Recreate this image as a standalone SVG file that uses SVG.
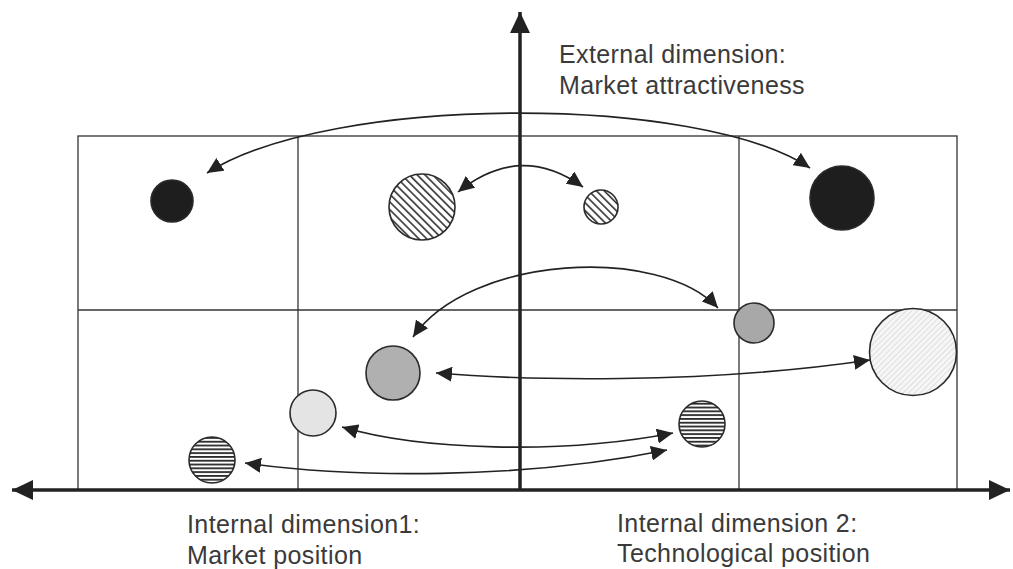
<svg xmlns="http://www.w3.org/2000/svg" width="1013" height="569" viewBox="0 0 1013 569">
  <style>
    .grid { fill: none; stroke: #333; stroke-width: 1.3; }
    .axis { fill: none; stroke: #222; stroke-width: 3.5; }
    .conn { fill: none; stroke: #222; stroke-width: 1.6; marker-start: url(#arr); marker-end: url(#arr); }
    .node { stroke: #2a2a2a; stroke-width: 1.6; }
    .lbl { font-family: "Liberation Sans", Arial, sans-serif; font-size: 25px; fill: #3a3a3a; letter-spacing: 0.4px; }
  </style>
  <defs>
    <marker id="arr" markerUnits="userSpaceOnUse" markerWidth="17" markerHeight="15" refX="16" refY="7.5" orient="auto-start-reverse">
      <path d="M0,0 L16,7.5 L0,15 z" fill="#222"/>
    </marker>
    <marker id="axarr" markerUnits="userSpaceOnUse" markerWidth="22" markerHeight="20" refX="21" refY="10" orient="auto-start-reverse">
      <path d="M0,0 L21,10 L0,20 z" fill="#222"/>
    </marker>
    <pattern id="diag" patternUnits="userSpaceOnUse" width="5.5" height="5.5" patternTransform="rotate(-45)">
      <rect width="5.5" height="5.5" fill="#fff"/>
      <rect x="0" y="0" width="1.6" height="5.5" fill="#333"/>
    </pattern>
    <pattern id="horiz" patternUnits="userSpaceOnUse" width="4" height="3.8">
      <rect width="4" height="3.8" fill="#fff"/>
      <rect x="0" y="0" width="4" height="1.8" fill="#2a2a2a"/>
    </pattern>
    <pattern id="faint" patternUnits="userSpaceOnUse" width="4" height="4" patternTransform="rotate(45)">
      <rect width="4" height="4" fill="#f6f6f6"/>
      <rect x="0" y="0" width="0.8" height="4" fill="#d8d8d8"/>
    </pattern>
  </defs>

  <rect width="1013" height="569" fill="#ffffff"/>

  <g id="grid">
    <rect class="grid" x="78" y="136" width="879" height="354"/>
    <line class="grid" x1="78" y1="310" x2="957" y2="310"/>
    <line class="grid" x1="298" y1="136" x2="298" y2="490"/>
    <line class="grid" x1="739" y1="136" x2="739" y2="490"/>
  </g>

  <g id="axes">
    <line class="axis" x1="520" y1="490" x2="520" y2="12" marker-end="url(#axarr)"/>
    <line class="axis" x1="12" y1="490" x2="1010" y2="490" marker-start="url(#axarr)" marker-end="url(#axarr)"/>
  </g>

  <g id="n1"><circle class="node" cx="172" cy="201" r="21" fill="#1e1e1e"/></g>
  <g id="n2"><circle class="node" cx="422" cy="207" r="33" fill="url(#diag)"/></g>
  <g id="n3"><circle class="node" cx="601" cy="207" r="17" fill="url(#diag)"/></g>
  <g id="n4"><circle class="node" cx="842" cy="198" r="32" fill="#1e1e1e"/></g>
  <g id="n5"><circle class="node" cx="754" cy="323" r="20" fill="#a8a8a8"/></g>
  <g id="n6"><circle class="node" cx="913" cy="352" r="43.5" fill="url(#faint)"/></g>
  <g id="n7"><circle class="node" cx="393" cy="373" r="27" fill="#b0b0b0"/></g>
  <g id="n8"><circle class="node" cx="313" cy="413" r="23" fill="#e4e4e4"/></g>
  <g id="n9"><circle class="node" cx="212" cy="460" r="23" fill="url(#horiz)"/></g>
  <g id="n10"><circle class="node" cx="702" cy="424" r="23" fill="url(#horiz)"/></g>

  <g id="connectors">
    <path class="conn" d="M207,173 C330,94 700,94 810,168"/>
    <path class="conn" d="M458,192 Q520,142 583,187"/>
    <path class="conn" d="M413,337 C470,255 660,245 718,308"/>
    <path class="conn" d="M436,373 C520,380 700,385 870,360"/>
    <path class="conn" d="M342,427 C420,450 560,455 673,433"/>
    <path class="conn" d="M245,463 C350,478 520,480 667,450"/>
  </g>

  <g id="labels">
    <text class="lbl" x="559" y="63">External dimension:</text>
    <text class="lbl" x="559" y="94">Market attractiveness</text>
    <text class="lbl" x="187" y="533">Internal dimension1:</text>
    <text class="lbl" x="187" y="564">Market position</text>
    <text class="lbl" x="617" y="532">Internal dimension 2:</text>
    <text class="lbl" x="617" y="562">Technological position</text>
  </g>
</svg>
